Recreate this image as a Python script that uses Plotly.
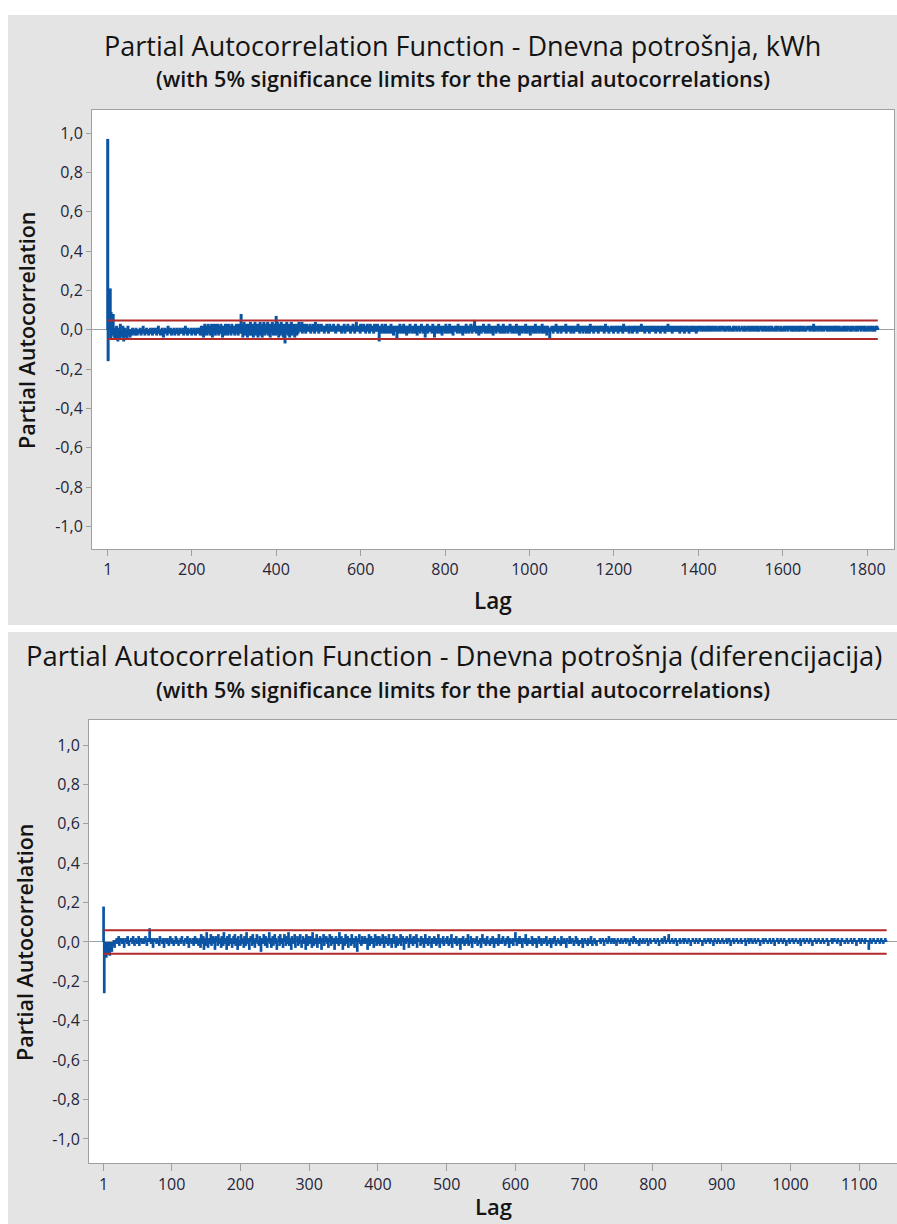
import plotly.graph_objects as go

W, H = 897, 1224

# ---------------- data (PACF values in hundredths) ----------------
top_title = "Partial Autocorrelation Function - Dnevna potrošnja, kWh"
bot_title = "Partial Autocorrelation Function - Dnevna potrošnja (diferencijacija)"
subtitle = "(with 5% significance limits for the partial autocorrelations)"

top_pacf_pct = [
97,-16,3,5,2,6,21,-5,9,4,-3,2,1,8,
-2,-4,1,-3,-5,0,-2,2,-1,-4,-6,-3,1,-2,-5,-1,3,-3,-2,0,
-4,-1,2,-3,-6,-2,-1,1,-3,-4,0,-2,-5,-1,2,-2,-3,0,-1,-4,
-1,-2,0,-3,-1,1,-2,-1,0,-2,-3,-1,0,1,-2,-1,-3,0,-1,-2,
0,-1,-2,1,-1,-3,-2,0,-1,-1,2,-2,0,-1,-3,-1,0,-2,1,-1,
-2,0,-1,-3,-2,-1,0,1,-2,-1,-2,0,-3,-1,1,-1,-2,0,-1,-2,
1,-1,-3,0,-2,-1,2,-1,0,-2,-1,-3,0,-1,-2,1,-1,0,-4,-1,
-2,0,1,-1,-2,-1,0,-3,-1,2,-1,-2,0,-1,-1,1,-2,-3,0,-1,
-1,-2,0,1,-1,-3,-1,0,-2,-1,1,-2,-1,0,-3,-1,-2,1,0,-1,
-2,-1,0,-2,1,-1,-3,0,-1,-2,2,-1,0,-2,-1,-3,1,-1,0,-2,
-1,0,-2,-1,1,-3,-1,0,-2,-1,-2,1,0,-1,-3,-2,0,-1,1,-2,
-1,0,-2,1,-1,-3,
1,-2,2,-1,-3,0,2,-4,1,-1,3,-2,0,2,-3,1,-1,-2,3,0,
-1,2,-3,1,0,-2,3,-1,-4,2,0,-2,1,3,-1,-3,2,0,-2,1,
3,-1,0,-3,2,1,-2,0,3,-1,-2,2,-4,1,0,2,-1,-3,1,3,
-2,0,2,-1,-3,1,3,-2,0,1,-1,2,-3,0,3,-1,-2,1,2,-1,
0,-3,2,1,-2,3,-1,0,2,-3,1,-1,3,0,-2,
2,8,
3,-2,1,-4,2,0,4,-1,-3,2,1,-2,3,0,-4,2,-1,3,1,-3,
0,4,-2,1,-3,2,3,-1,-4,0,2,-2,4,1,-3,0,3,-1,2,-4,
1,3,-2,0,4,-3,1,-1,2,-4,3,0,-2,4,1,-3,2,0,-1,3,
-2,1,4,-3,0,2,-1,3,-4,1,2,-2,0,4,-1,-3,2,1,-2,3,
0,-3,7,2,-1,4,-2,1,-4,3,0,2,-3,1,4,-1,-2,3,0,-4,
2,1,-3,-7,3,0,-2,4,1,-1,-3,2,0,3,-4,1,2,-2,4,-1,
-3,0,2,3,-2,1,-4,2,0,-1,3,-3,1,2,-2,0,4,-1,
2,0,3,-1,1,4,-2,2,0,1,3,-1,2,0,-2,1,3,0,2,-1,
1,2,-1,0,3,1,-2,2,0,1,-1,3,2,0,1,-2,2,4,0,1,
-1,2,0,1,3,-2,1,0,2,-1,1,3,0,2,-1,0,1,2,-2,1,
0,2,1,-1,3,0,1,2,-2,0,1,3,-1,2,0,1,-1,2,0,1,
3,-1,0,2,1,-2,1,0,2,1,-1,3,0,1,2,-1,0,2,1,-2,
1,0,2,-1,1,3,0,-2,2,1,0,-1,2,1,3,0,-1,2,0,1,
-2,1,2,0,1,-1,3,2,0,1,-2,1,0,2,4,-1,1,0,2,-1,
0,2,1,-2,3,1,0,-1,2,0,1,3,-1,2,0,1,-2,2,1,0,
3,-1,1,2,0,-2,1,3,0,1,-1,2,0,1,2,-2,0,3,1,-1,
2,0,1,-1,3,0,1,2,
-6,
1,-1,2,0,-2,1,3,-1,0,2,-2,1,0,-1,3,1,-2,0,2,-1,
0,1,-2,2,1,-1,0,3,-2,1,0,2,-1,-3,1,0,2,-1,1,0,
2,-5,1,0,-1,2,1,-2,3,0,-1,1,2,-2,0,1,-1,3,0,-2,
1,2,-1,0,-3,2,1,0,-1,2,-2,1,3,0,-1,1,0,-2,2,1,
-1,0,2,-2,1,3,-1,0,1,-3,2,0,1,-1,2,0,-2,1,0,3,
-1,1,0,2,-2,1,0,-1,-4,2,1,0,-1,3,-2,0,1,2,-1,0,
2,-1,1,0,-2,1,3,-1,0,1,-4,2,0,-1,1,2,-2,0,1,-1,
3,0,-2,1,2,-1,0,1,-3,2,0,1,-1,2,0,-2,1,3,-1,0,
1,-2,2,0,1,-1,3,0,-2,1,2,-1,0,1,-3,2,1,0,-1,2,
0,-1,1,2,-2,0,3,1,-1,0,2,-2,1,0,-1,2,1,-3,0,1,
2,-1,0,1,-2,3,0,1,-1,2,0,-2,1,2,-1,0,3,-1,1,-2,
0,2,1,-1,3,5,-1,0,2,-2,1,0,-1,2,1,-3,0,2,-1,1,
0,-2,2,1,-1,0,3,-1,1,0,-2,2,0,1,-1,2,-2,0,1,3,
-1,0,2,-2,1,0,-1,2,1,-3,0,1,2,-1,0,1,-2,2,0,-1,
1,3,-1,0,2,-2,1,0,-1,2,1,-2,0,3,-1,1,0,-2,2,0,
-1,1,2,0,-2,1,-1,2,0,3,-1,0,1,-2,2,1,-1,0,1,-2,
2,0,-1,1,3,-2,0,1,-1,2,0,-3,1,2,0,-1,1,-2,2,0,
1,-1,0,2,-2,1,3,0,-1,1,-2,2,0,1,-1,0,2,-3,1,0,
-1,2,1,0,-2,1,2,-1,0,3,-2,1,0,-1,2,0,1,-2,1,0,
2,-1,0,1,-2,3,0,-1,1,2,-2,0,1,-1,2,1,-3,0,2,-1,
0,1,-1,-5,1,0,
1,0,2,-1,1,-2,0,2,1,-1,0,1,3,-1,0,2,-2,1,0,1,
-1,2,0,1,-2,1,2,0,-1,1,0,2,-1,0,1,3,-2,0,1,-1,
2,0,1,-1,0,2,1,-2,1,0,2,-1,1,0,-2,2,1,0,-1,1,
0,2,-1,1,3,0,-1,1,-2,2,0,1,-1,0,2,1,-2,0,1,2,
-1,0,1,2,-2,1,0,-1,2,1,0,-2,1,3,0,-1,1,0,2,-1,
1,-2,0,2,1,-1,0,1,2,-1,1,0,-2,2,0,1,-1,2,0,1,
2,0,-1,1,0,2,-2,1,0,3,-1,0,1,-1,2,0,1,-2,1,0,
-1,1,2,0,-1,1,0,2,-2,1,0,1,-1,2,0,-1,1,2,0,-2,
1,0,2,-1,1,0,-1,2,1,0,-2,1,3,0,-1,1,2,-1,0,1,
0,-1,1,2,0,-2,1,0,2,-1,1,0,1,-2,2,0,-1,1,0,2,
1,-1,0,2,-2,1,0,1,-1,2,0,1,-1,0,3,-1,1,0,2,-1,
0,1,-2,1,2,0,-1,1,0,2,-1,0,1,-2,1,2,0,-1,1,0,
2,-1,1,0,-1,2,0,1,-2,1,0,2,-1,1,0,-1,2,1,0,-2,
1,0,2,-1,0,1,-1,2,0,1,-2,1,0,2,-1,0,1,3,-1,0,
-1,2,0,1,-1,0,2,-2,1,0,1,-1,2,0,1,-1,0,2,-1,1,
0,1,-1,2,0,-2,1,0,2,-1,1,0,-1,2,0,1,-2,1,0,2,
-1,0,1,2,-1,1,0,-2,1,0,2,-1,0,1,-1,2,0,1,-1,0,
2,-1,1,0,-2,1,0,2,-1,1,
1,0,2,0,1,-1,1,2,0,1,0,-1,1,2,1,0,1,-1,0,2,
0,1,1,-1,2,0,1,0,1,2,-1,0,1,1,0,2,0,-1,1,0,
1,2,0,1,-1,0,1,1,2,0,1,-1,1,0,2,1,0,0,1,-1,
2,0,1,0,1,-1,1,2,0,1,0,1,-1,2,0,1,1,0,-1,1,
0,1,2,0,-1,1,0,1,2,1,0,-1,1,0,1,2,0,1,-1,0,
1,0,1,2,0,1,-1,0,1,1,2,0,-1,1,0,1,0,2,1,-1,
0,1,0,2,1,-1,1,0,1,2,0,1,-1,1,0,2,1,0,1,-1,
1,2,0,-1,1,0,1,1,2,0,1,-1,0,1,2,0,1,0,-1,1,
2,0,1,1,0,-1,1,2,0,1,0,1,-1,2,1,0,1,0,1,-1,
0,1,2,0,1,-1,1,0,2,1,0,1,-1,0,1,2,1,0,-1,1,
1,0,1,2,-1,0,1,1,0,2,1,-1,0,1,0,2,1,0,1,-1,
2,1,0,1,-1,0,2,1,0,1,-1,1,2,0,1,0,-1,1,2,0,
1,-1,0,2,1,0,1,1,-1,2,0,1,0,1,-1,1,2,0,1,0,
0,1,2,-1,1,0,1,2,0,1,-1,0,3,1,0,1,-1,2,0,1,
1,0,1,-1,2,0,1,1,0,2,-1,1,0,1,2,0,-1,1,0,1,
2,0,1,0,-1,1,2,1,0,1,-1,0,2,1,0,1,1,-1,0,2,
0,1,1,2,-1,0,1,0,2,1,0,-1,1,2,0,1,0,1,-1,1,
1,2,0,1,0,-1,1,2,1,0,1,-1,0,2,1,0,1,1,-1,0,
2,1,0,-1,1,0,2,1,0,1,-1,1,0,2,1,0,-1,1,2,0,
1,0,1,2,-1,0,1,1,0,2,1,-1,0,1,2,0,1,-1,1,0,
0,2,1,0,-1,1,0,2,1,0,1,-1,2,0,1,1,0,-1,1,2,
0,1,2,1,1,
]

bot_pacf_pct = [
18,-26,
-7,-5,-8,-3,-6,-2,-4,-7,-1,-3,-5,0,-2,1,-3,
1,0,2,-1,1,3,-2,0,2,1,-1,2,0,-3,1,2,0,-1,3,1,
-2,1,0,2,1,-1,3,0,-2,1,2,0,-1,1,3,-2,0,2,1,-1,
0,2,-1,1,3,0,-2,1,2,0,7,1,-1,2,0,-3,1,2,0,1,
-1,2,0,1,-2,3,1,0,-1,2,1,-3,0,2,1,-1,2,0,-2,1,
3,0,-1,2,1,-2,0,1,3,-1,2,0,-2,1,0,2,-1,3,0,1,
-2,1,2,0,-1,3,1,-3,0,2,1,-1,0,2,-2,1,3,0,-1,2,
0,-2,1,
2,-3,4,0,-1,3,-4,1,2,-2,5,0,-3,2,1,-1,4,-2,0,3,
-1,2,-4,3,0,1,-2,4,-1,2,0,-3,3,1,-2,5,0,-1,2,-4,
3,0,-2,4,1,-1,2,-3,0,3,-1,4,-2,1,2,-4,3,0,1,-2,
4,-1,0,2,-3,3,1,-2,5,0,-1,2,-4,1,3,0,-2,4,-1,1,
-3,2,0,4,-1,1,-2,3,0,-5,2,1,-1,4,0,-2,3,1,-3,2,
0,5,-1,2,-3,1,3,-2,0,4,-1,2,-4,1,0,3,-2,4,1,-1,
2,-3,0,4,1,-2,3,0,-1,5,-2,1,2,-4,3,0,-1,2,4,-3,
1,0,3,-2,2,-1,4,0,-3,1,3,-1,2,0,-4,4,1,-2,3,0,
-1,3,1,-3,5,0,-2,2,1,-1,4,-3,0,2,-1,3,1,-4,2,0,
4,-2,1,0,3,-1,2,-3,0,4,1,-2,3,0,-1,2,-4,1,3,-1,
0,2,-2,5,1,-1,3,0,-4,2,1,-2,4,0,-1,3,-3,1,2,0,
-2,4,1,-1,2,-3,0,3,1,-5,2,0,4,-1,1,-2,3,0,-1,2,
3,-1,0,2,-4,1,4,-2,0,3,-1,1,2,-3,0,4,1,-2,3,-1,
1,3,-2,0,2,-1,4,1,-3,0,3,-1,2,0,-2,4,-1,1,2,-3,
0,2,4,-1,1,-3,3,0,-2,2,1,-1,4,-2,0,3,1,-4,2,0,
-1,3,0,2,-3,1,4,-1,0,2,-2,3,1,-1,0,4,-3,1,2,0,
1,-2,3,0,-1,2,-3,1,4,-1,0,2,-2,1,3,-1,0,-3,2,1,
-1,3,0,2,-2,1,-1,4,0,-3,2,1,0,-1,3,-2,1,0,2,-1,
3,0,-2,1,2,-1,4,-3,0,1,2,-1,0,3,-2,1,-1,2,0,-4,
2,1,-1,3,0,-2,1,2,-1,0,4,-2,1,0,3,-1,-3,2,1,0,
-1,2,0,3,-2,1,0,-1,2,-3,1,4,0,-1,2,1,-2,0,3,-1,
1,0,-2,2,1,-1,3,0,-3,1,2,-1,0,2,-2,4,1,-1,0,2,
-1,3,0,1,-2,2,-1,0,3,1,-3,2,0,-1,1,2,-2,0,1,5,
0,-2,2,1,-1,3,0,-1,2,-3,1,0,2,-1,4,0,-2,1,2,-1,
1,0,-1,3,-2,1,2,0,-1,2,-3,0,1,3,-1,0,2,-2,1,0,
2,-1,0,1,3,-2,1,0,-1,2,1,-3,0,2,-1,1,3,0,-2,1,
0,2,-1,1,0,-2,3,1,-1,0,2,-1,1,-3,2,0,1,-1,3,0,
-1,1,2,0,-2,1,0,3,-1,2,0,-2,1,1,-1,0,2,-3,1,0,
2,-1,0,1,-2,2,1,0,-1,3,0,-2,1,0,2,-1,1,-2,0,1,
1,0,2,-1,1,0,2,1,-2,0,1,2,0,-1,1,3,0,1,-1,2,
0,1,-1,2,1,0,-2,1,2,0,1,-1,0,2,1,-1,1,0,2,1,
-1,0,2,1,0,-2,1,2,0,1,-1,3,0,1,2,-1,0,1,1,-2,
2,0,1,-1,1,2,0,-1,1,0,2,1,-2,0,1,2,-1,1,0,1,
0,2,1,-1,0,1,2,0,-2,1,1,0,2,-1,1,0,3,1,-1,0,
1,2,4,0,-1,1,0,2,1,-1,0,1,2,0,-2,1,1,0,2,-1,
1,0,1,2,-1,0,2,1,0,-1,1,2,0,1,-2,1,0,2,1,0,
-1,1,2,0,1,-1,0,2,1,0,1,-2,1,0,2,1,-1,0,1,2,
0,1,-1,2,0,1,1,-2,0,2,1,0,-1,1,2,0,1,-1,0,1,
2,0,-1,1,1,0,2,-1,0,1,2,1,-2,0,1,0,2,-1,1,0,
1,2,0,-1,1,0,1,2,-1,0,1,1,0,2,-2,1,0,1,2,-1,
0,1,2,0,-1,1,0,2,1,-1,0,1,2,0,1,-2,1,0,1,2,
-1,0,1,2,0,1,-1,1,0,2,1,-1,0,1,2,0,-2,1,1,0,
2,1,-1,0,1,2,0,1,-1,0,2,1,0,-2,1,1,0,2,-1,0,
1,0,2,1,-1,0,1,2,0,1,-1,1,0,2,-2,1,0,1,2,0,
-1,1,0,2,1,0,-1,1,2,0,1,-2,0,1,1,2,0,-1,1,0,
2,0,1,-1,0,1,2,1,-1,0,1,0,2,1,-2,0,1,1,0,2,
-1,1,0,2,1,0,1,-1,2,0,1,1,-2,0,2,1,0,1,-1,1,
0,2,1,-1,0,1,1,2,0,-1,1,0,2,1,0,-2,1,1,0,2,
1,-1,0,2,1,0,1,-1,2,0,1,1,0,-4,1,2,0,-1,1,0,
2,0,1,-1,1,0,2,1,0,-1,1,2,0,1,-1,0,1,2,1,0,
]

top_limit = 0.0468
bot_limit = 0.060

top_xticks = [1, 200, 400, 600, 800, 1000, 1200, 1400, 1600, 1800]
bot_xticks = [1, 100, 200, 300, 400, 500, 600, 700, 800, 900, 1000, 1100]
y_tickvals = [-1.0, -0.8, -0.6, -0.4, -0.2, 0.0, 0.2, 0.4, 0.6, 0.8, 1.0]
y_ticktext = ["-1,0", "-0,8", "-0,6", "-0,4", "-0,2", "0,0", "0,2", "0,4", "0,6", "0,8", "1,0"]

# ---------------- styling ----------------
BLUE = "#0b54a4"
RED = "#b02a2a"
GRID = "#a0a0a0"
PANEL = "#e4e4e4"
FONT = "Open Sans"
TXT = "#141414"
TICKTXT = "#25253a"


def stems(vals):
    xs, ys = [], []
    for i, v in enumerate(vals, start=1):
        xs += [i, i, None]
        ys += [0, v / 100.0, None]
    return xs, ys


fig = go.Figure()

tx, ty = stems(top_pacf_pct)
bx, by = stems(bot_pacf_pct)
n_top, n_bot = len(top_pacf_pct), len(bot_pacf_pct)

fig.add_trace(go.Scatter(x=tx, y=ty, mode="lines", line=dict(color=BLUE, width=3),
                         xaxis="x", yaxis="y", showlegend=False, hoverinfo="skip"))
for s in (1, -1):
    fig.add_trace(go.Scatter(x=[1, n_top], y=[s * top_limit] * 2, mode="lines",
                             line=dict(color=RED, width=2), xaxis="x", yaxis="y", showlegend=False))

fig.add_trace(go.Scatter(x=bx, y=by, mode="lines", line=dict(color=BLUE, width=2.7),
                         xaxis="x2", yaxis="y2", showlegend=False, hoverinfo="skip"))
for s in (1, -1):
    fig.add_trace(go.Scatter(x=[1, n_bot], y=[s * bot_limit] * 2, mode="lines",
                             line=dict(color=RED, width=2), xaxis="x2", yaxis="y2", showlegend=False))


def px(x):
    return x / W


def py(y):
    return 1 - y / H


axis_common = dict(showgrid=False, showline=True, linecolor=GRID, linewidth=1,
                   ticks="outside", tickcolor=GRID, tickwidth=1,
                   tickfont=dict(family=FONT, size=16, color=TICKTXT))

fig.update_layout(
    width=W, height=H, margin=dict(l=0, r=0, t=0, b=0),
    paper_bgcolor="white", plot_bgcolor="white",
    xaxis=dict(domain=[px(92), px(894)], range=[-36.2, 1863.4], anchor="y",
               tickvals=top_xticks, ticktext=[str(v) for v in top_xticks], ticklen=6,
               mirror=True, zeroline=False, **axis_common),
    yaxis=dict(domain=[py(549), py(110)], range=[-1.115, 1.117], anchor="x",
               tickvals=y_tickvals, ticktext=y_ticktext, ticklen=5, mirror=True,
               zeroline=True, zerolinecolor=GRID, zerolinewidth=1, **axis_common),
    xaxis2=dict(domain=[px(89), 1.0], range=[-20.2, 1155.0], anchor="y2",
                tickvals=bot_xticks, ticktext=[str(v) for v in bot_xticks], ticklen=7,
                mirror=True, zeroline=False, **axis_common),
    yaxis2=dict(domain=[py(1163), py(720)], range=[-1.122, 1.127], anchor="x2",
                tickvals=y_tickvals, ticktext=y_ticktext, ticklen=5, mirror=False,
                zeroline=True, zerolinecolor=GRID, zerolinewidth=1, **axis_common),
)

shapes = [
    dict(type="rect", xref="paper", yref="paper", x0=px(8), x1=1.0, y0=py(625), y1=py(15),
         fillcolor=PANEL, line=dict(width=0), layer="below"),
    dict(type="rect", xref="paper", yref="paper", x0=px(8), x1=1.0, y0=0, y1=py(632),
         fillcolor=PANEL, line=dict(width=0), layer="below"),
    dict(type="rect", xref="paper", yref="paper", x0=px(92), x1=px(894), y0=py(549), y1=py(110),
         fillcolor="white", line=dict(width=0), layer="below"),
    dict(type="rect", xref="paper", yref="paper", x0=px(89), x1=1.0, y0=py(1163), y1=py(720),
         fillcolor="white", line=dict(width=0), layer="below"),
]
fig.update_layout(shapes=shapes)


def ann(text, x, y, size, weight=400, angle=0, xanchor="center"):
    return dict(text=text, x=px(x), y=py(y), xref="paper", yref="paper",
                xanchor=xanchor, yanchor="middle", showarrow=False, textangle=angle,
                font=dict(family=FONT, size=size, color=TXT, weight=weight))


fig.update_layout(annotations=[
    ann(top_title, 463, 46, 27),
    ann(subtitle, 463, 78, 21.5, 600),
    ann("Partial Autocorrelation", 27, 330, 21.5, 600, -90),
    ann("Lag", 493, 600, 22.5, 600),
    ann(bot_title, 24, 655, 27.4, 400, 0, "left"),
    ann(subtitle, 463, 689, 21.5, 600),
    ann("Partial Autocorrelation", 24, 942, 21.5, 600, -90),
    ann("Lag", 493, 1206, 22, 600),
])

fig.write_html(
    "out.html",
    config={"displayModeBar": False},
    post_script="document.body.style.margin='0';document.body.style.overflow='hidden';"
                "document.documentElement.style.overflow='hidden';",
)
